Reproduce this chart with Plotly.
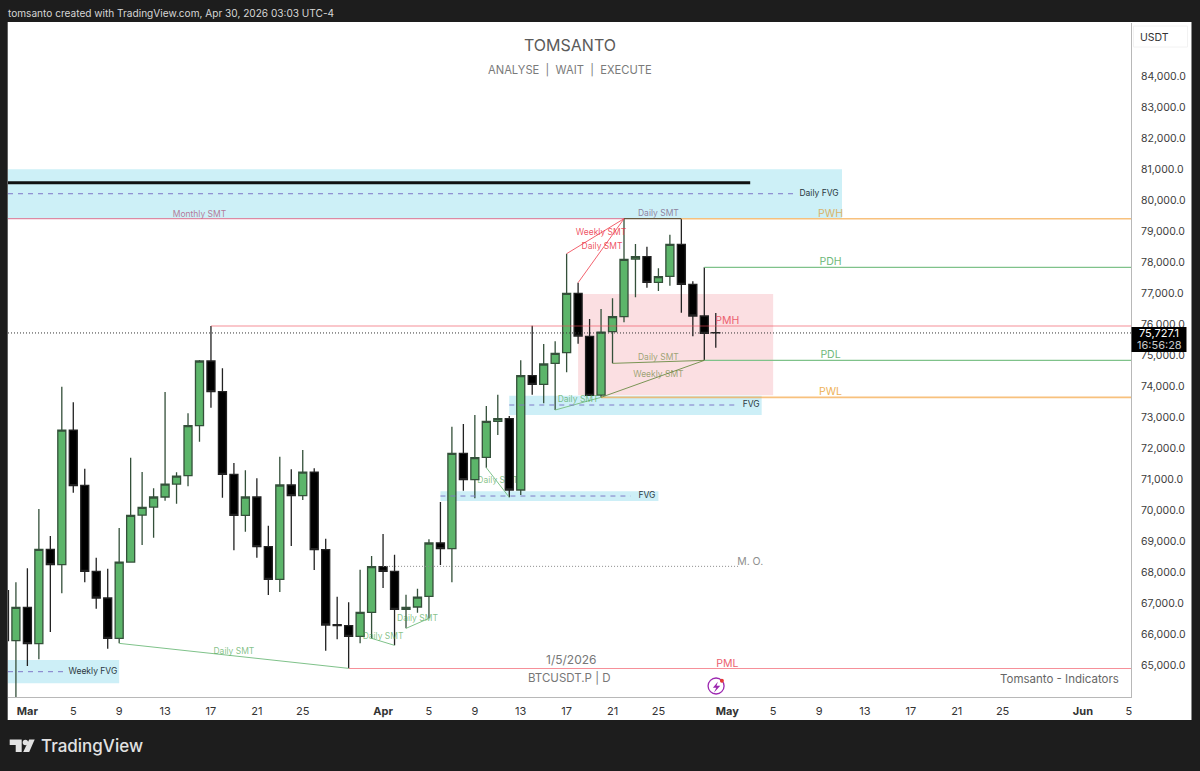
import pandas as pd
import plotly.graph_objects as go

# ---------- candle data (Feb 27 - Apr 30, 2026) ----------
dates = pd.date_range("2026-02-27", "2026-04-30", freq="D").strftime("%Y-%m-%d").tolist()
opens = [67413,65800,66876,65704,68747,68252,72596,70811,68037,67177,65876,68338,69854,70112,70435,70854,71123,72736,74822,73833,71166,69844,70435,68833,67779,70822,70478,71241,68736,66317,66284,65940,66714,68188,68037,66811,66887,67231,68951,68768,71844,70994,71715,72876,72962,70661,74349,74070,74747,75091,77005,75618,73725,75768,76252,78112,78188,77360,77553,78586,77295,76274,75740]
highs = [67900,67682,68134,70048,69177,73994,73489,71349,68478,68123,69435,71704,71241,70715,73822,71231,73134,74854,75952,74586,71532,71295,71037,69510,71736,71327,71951,71360,69091,67220,67037,68091,68532,69241,68575,67285,67478,69070,70274,72704,72790,73080,73371,73736,73048,74844,75962,75371,75457,78284,77349,76177,76499,76844,79413,78596,78510,77811,78897,79413,77392,77844,76370]
lows = [65500,63900,64983,65198,66080,67327,70575,67682,66833,65542,65714,68317,68886,69123,70317,70220,70779,72220,73317,70413,68714,69317,68478,67274,67370,68854,70338,68080,65478,65843,64908,65714,65876,67499,65650,66198,66704,66521,68242,67682,70639,70392,71381,72435,70424,70500,73736,73457,73242,74456,75381,73714,73650,74747,76069,76876,77188,77080,77252,76381,75618,74843,75252]
closes = [65800,66876,65704,68747,68252,72596,70801,68037,67177,65876,68338,69844,70102,70435,70854,71112,72736,74822,73833,71166,69844,70435,68833,67779,70822,70478,71241,68736,66306,66284,65940,66714,68188,68037,66811,66876,67209,68951,68768,71844,70994,71704,72876,72962,70661,74349,74070,74726,75070,77005,75628,73714,75757,76252,78102,78188,77360,77542,78586,77295,76274,75714,75727]

# ---------- axis ----------
x_range = ["2026-02-27 07:26", "2026-06-05 04:34"]
y_range = [63984, 85726]
price_ticks = [65000,66000,67000,68000,69000,70000,71000,72000,73000,74000,75000,76000,77000,78000,79000,80000,81000,82000,83000,84000]
date_ticks = ["2026-03-01","2026-03-05","2026-03-09","2026-03-13","2026-03-17","2026-03-21","2026-03-25","2026-04-01","2026-04-05","2026-04-09","2026-04-13","2026-04-17","2026-04-21","2026-04-25","2026-05-01","2026-05-05","2026-05-09","2026-05-13","2026-05-17","2026-05-21","2026-05-25","2026-06-01","2026-06-05"]
date_labels = ["<b>Mar</b>","5","9","13","17","21","25","<b>Apr</b>","5","9","13","17","21","25","<b>May</b>","5","9","13","17","21","25","<b>Jun</b>","5"]

# ---------- zones ----------
zone_x0 = [x_range[0], "2026-04-18", "2026-04-12", "2026-04-06", x_range[0]]
zone_x1 = ["2026-05-11", "2026-05-05", "2026-05-04", "2026-04-25", "2026-03-09"]
zone_top = [81006, 76983, 73704, 70618, 65177]
zone_bottom = [79426, 73714, 73080, 70306, 64424]
zone_color = ["#cdf0f7", "#fbdfe2", "#cdeff7", "#cdeff7", "#cdeff7"]

# ---------- line segments ----------
seg_x = [
    [x_range[0], "2026-04-22"], ["2026-04-22", "2026-04-27"], ["2026-04-27", x_range[1]],
    ["2026-04-29", x_range[1]], ["2026-03-17", x_range[1]], ["2026-04-29", x_range[1]],
    ["2026-04-20", x_range[1]], ["2026-03-29", x_range[1]], [x_range[0], "2026-05-03"],
    ["2026-03-09", "2026-03-29"], ["2026-03-31", "2026-04-02"], ["2026-04-03", "2026-04-05"],
    ["2026-04-10", "2026-04-12"], ["2026-04-16", "2026-04-20"], ["2026-04-20", "2026-04-29"],
    ["2026-04-21", "2026-04-29"], ["2026-04-17", "2026-04-22"], ["2026-04-18", "2026-04-22"],
]
seg_y = [
    [79413, 79413], [79413, 79413], [79413, 79413],
    [77844, 77844], [75952, 75952], [74843, 74843],
    [73650, 73650], [64903, 64903], [80574, 80574],
    [65714, 64908], [65876, 65650], [66198, 66521],
    [71381, 70424], [73242, 73650], [73650, 74843],
    [74747, 74843], [78284, 79413], [77349, 79413],
]
RED = "rgba(240,70,85,0.6)"
GRN = "#7fc28a"
ORG = "rgba(245,166,70,0.7)"
seg_color = [
    "rgba(214,110,140,0.8)", "rgba(90,70,40,0.9)", ORG,
    GRN, RED, GRN,
    ORG, RED, "#111111",
    GRN, GRN, GRN, GRN, GRN, "rgba(90,130,50,0.8)", "rgba(90,130,50,0.8)", "rgba(240,70,85,0.85)", "rgba(240,70,85,0.85)",
]
seg_width = [1.2, 1.2, 1.6, 1.2, 1.2, 1.2, 1.6, 1.2, 3, 1, 1, 1, 1, 1, 1, 1, 1, 1]

# ---------- dashed FVG midlines, dotted levels ----------
dash_x = [[x_range[0], "2026-05-07"], ["2026-04-12", "2026-05-01 20:00"], ["2026-04-06", "2026-04-22 14:00"], [x_range[0], "2026-03-04 03:00"]]
dash_y = [[80219, 80219], [73403, 73403], [70467, 70467], [64800, 64800]]
dot_x = [x_range, ["2026-04-01", "2026-05-02"]]
dot_y = [[75727.1, 75727.1], [68199, 68199]]
dot_color = ["#333333", "#8a8a8a"]

# ---------- labels ----------
small_text = ["Monthly SMT","Daily SMT","Daily SMT","Daily SMT","Daily SMT","Weekly SMT","Daily SMT","Weekly SMT","Daily SMT","Daily SMT"]
small_x = ["2026-03-16","2026-03-19","2026-04-01","2026-04-04","2026-04-18","2026-04-25","2026-04-25","2026-04-20","2026-04-20 02:00","2026-04-25"]
small_y = [79532,65435,65919,66490,73565,74371,74919,78961,78500,79564]
small_color = ["rgba(170,80,120,0.75)"]+["rgba(67,160,71,0.65)"]*4+["rgba(90,120,40,0.6)"]*2+["rgba(235,50,70,0.85)"]*2+["rgba(120,90,130,0.75)"]
hidden_text = "Daily SMT"
hidden_x = ["2026-04-09 18:00", "2026-04-12 06:00"]
hidden_y = [70816, 71216]

level_text = ["PWH","PDH","PDL","PWL","PMH","PML","M. O."]
level_x = ["2026-05-10","2026-05-10","2026-05-10","2026-05-10","2026-05-01","2026-05-01","2026-05-03"]
level_y = [79564,78016,75016,73822,76113,65048,68339]
level_color = ["#d8b36a","#6fb97a","#6fb97a","#eeb258","#ec5f70","#ec5f70","#8f8f8f"]

zone_text = ["Daily FVG","FVG","FVG","Weekly FVG"]
zone_lx = ["2026-05-09","2026-05-03 02:00","2026-04-24","2026-03-06 17:00"]
zone_ly = [80210,73403,70467,64790]

# ---------- chrome geometry ----------
L, R, T, B = 8.3, 1131.5, 23.0, 697.0
W, H = 1200, 771
def px(x): return (x - L) / (R - L)
def py(y): return (B - y) / (B - T)

fig = go.Figure()

fig.add_trace(go.Candlestick(
    x=dates, open=opens, high=highs, low=lows, close=closes,
    whiskerwidth=0, hoverinfo="skip", showlegend=False,
    increasing=dict(line=dict(color="#34503a", width=1.3), fillcolor="#5cb56a"),
    decreasing=dict(line=dict(color="#222222", width=1.3), fillcolor="#000000"),
))
for xs, ys, c, w in zip(seg_x, seg_y, seg_color, seg_width):
    fig.add_trace(go.Scatter(x=xs, y=ys, mode="lines", line=dict(color=c, width=w), hoverinfo="skip", showlegend=False))
for xs, ys in zip(dash_x, dash_y):
    fig.add_trace(go.Scatter(x=xs, y=ys, mode="lines", line=dict(color="#7f78c8", width=1, dash="5px,5px"), hoverinfo="skip", showlegend=False))
for xs, ys, c in zip(dot_x, dot_y, dot_color):
    fig.add_trace(go.Scatter(x=xs, y=ys, mode="lines", line=dict(color=c, width=1, dash="1px,2px"), hoverinfo="skip", showlegend=False))
fig.add_trace(go.Scatter(x=small_x, y=small_y, text=small_text, mode="text", textposition="middle center",
                         textfont=dict(family="Inter", size=8.5, color=small_color), hoverinfo="skip", showlegend=False))
fig.add_trace(go.Scatter(x=level_x, y=level_y, text=level_text, mode="text", textposition="middle center",
                         textfont=dict(family="Inter", size=10.5, color=level_color), hoverinfo="skip", showlegend=False))
fig.add_trace(go.Scatter(x=zone_lx, y=zone_ly, text=zone_text, mode="text", textposition="middle center",
                         textfont=dict(family="Inter", size=8.5, color="#2a3640"), hoverinfo="skip", showlegend=False))

shapes = [
    dict(type="rect", xref="paper", yref="paper", x0=px(8), x1=px(1192), y0=py(720), y1=py(22),
         fillcolor="#ffffff", line=dict(width=0), layer="below"),
]
for x0, x1, t, b, c in zip(zone_x0, zone_x1, zone_top, zone_bottom, zone_color):
    shapes.append(dict(type="rect", xref="x", yref="y", x0=x0, x1=x1, y0=b, y1=t, fillcolor=c, line=dict(width=0), layer="below"))
# label that sits behind the candles
shapes.append(dict(type="rect", xref="x", yref="y", x0=hidden_x[0], x1=hidden_x[1], y0=hidden_y[0], y1=hidden_y[1],
                   line=dict(width=0), fillcolor="rgba(0,0,0,0)", layer="below",
                   label=dict(text=hidden_text, textposition="middle center",
                              font=dict(family="Inter", size=8.5, color="rgba(67,160,71,0.65)"))))
# price tag + USDT box
shapes.append(dict(type="rect", xref="paper", yref="paper", x0=px(1132), x1=px(1187), y0=py(352), y1=py(327),
                   fillcolor="#000000", line=dict(width=0), layer="above"))
shapes.append(dict(type="rect", xref="paper", yref="paper", x0=px(1134), x1=px(1188), y0=py(47), y1=py(26),
                   fillcolor="#ffffff", line=dict(width=1, color="#f2f2f2"), layer="above"))
# lightning badge
shapes.append(dict(type="circle", xref="paper", yref="paper", x0=px(708.5), x1=px(724.5), y0=py(694), y1=py(678),
                   line=dict(width=1.3, color="#9c27b0"), fillcolor="rgba(0,0,0,0)", layer="above"))
def poly(pts):
    return "M" + " L".join(f"{px(a):.5f},{py(b):.5f}" for a, b in pts) + " Z"
shapes.append(dict(type="path", xref="paper", yref="paper", layer="above", fillcolor="#9c27b0", line=dict(width=0),
                   path=poly([(718.3,681.7),(713.3,687.7),(716.7,687.7),(714.3,692.7),(720.7,685.7),(717,685.7)])))
shapes.append(dict(type="circle", xref="paper", yref="paper", x0=px(720.3), x1=px(724.3), y0=py(682.7), y1=py(678.7),
                   line=dict(width=0), fillcolor="#e53935", layer="above"))
# TradingView mark
shapes.append(dict(type="path", xref="paper", yref="paper", layer="above", fillcolor="#e2e2e2", line=dict(width=0),
                   path=poly([(10,739.5),(22,739.5),(22,752),(16,752),(16,745),(10,745)])))
shapes.append(dict(type="circle", xref="paper", yref="paper", x0=px(23), x1=px(28.4), y0=py(745.2), y1=py(739.8),
                   line=dict(width=0), fillcolor="#e2e2e2", layer="above"))
shapes.append(dict(type="path", xref="paper", yref="paper", layer="above", fillcolor="#e2e2e2", line=dict(width=0),
                   path=poly([(29.5,739.5),(35,739.5),(29.5,752),(23.5,752)])))

def note(x, y, text, size, color, anchor="center", weight=None):
    f = dict(family="Inter", size=size, color=color)
    if weight: f["weight"] = weight
    return dict(xref="paper", yref="paper", x=px(x), y=py(y), text=text, showarrow=False,
                xanchor=anchor, yanchor="middle", font=f)

annotations = [
    note(6, 13, "tomsanto created with TradingView.com, Apr 30, 2026 03:03 UTC-4", 10.1, "#d6d6d6", "left"),
    note(570, 45, "TOMSANTO", 16, "#5a5a5a"),
    note(570, 70, "ANALYSE  |  WAIT  |  EXECUTE", 11.2, "#7a7a7a"),
    note(571, 659, "1/5/2026", 12, "#777777"),
    note(570, 678, "BTCUSDT.P | D", 11.5, "#777777"),
    note(1121, 679, "Tomsanto - Indicators", 11.5, "#666666", "right"),
    note(1155, 37, "USDT", 10.5, "#333333"),
    note(1160, 333, "75,727.1", 11, "#ffffff"),
    note(1160, 345, "16:56:28", 11, "#c8c8c8"),
    note(39, 746, "TradingView", 17, "#e2e2e2", "left", 500),
]

fig.update_layout(
    width=W, height=H, autosize=False,
    margin=dict(l=L, r=W - R, t=T, b=H - B, pad=0),
    paper_bgcolor="#1d1d1d", plot_bgcolor="#ffffff",
    boxgap=0.3, boxgroupgap=0, shapes=shapes, annotations=annotations,
    font=dict(family="Inter", color="#333333"),
    hovermode=False,
    xaxis=dict(type="date", range=x_range, rangeslider=dict(visible=False), showgrid=False, zeroline=False,
               tickmode="array", tickvals=date_ticks, ticktext=date_labels, ticks="outside", ticklen=4,
               tickcolor="rgba(0,0,0,0)", tickangle=0, tickfont=dict(family="Inter", size=11, color="#333333"),
               showline=True, linecolor="#b8b8b8", linewidth=1),
    yaxis=dict(side="right", range=y_range, showgrid=False, zeroline=False,
               tickmode="array", tickvals=price_ticks, tickformat=",.1f", ticks="outside", ticklen=7,
               tickcolor="rgba(0,0,0,0)", tickfont=dict(family="Inter", size=10.5, color="#3c3c3c"),
               showline=True, linecolor="#b8b8b8", linewidth=1),
)

fig.write_html("out.html", config={"displayModeBar": False},
               post_script="document.body.style.margin='0';document.body.style.background='#1d1d1d';")
